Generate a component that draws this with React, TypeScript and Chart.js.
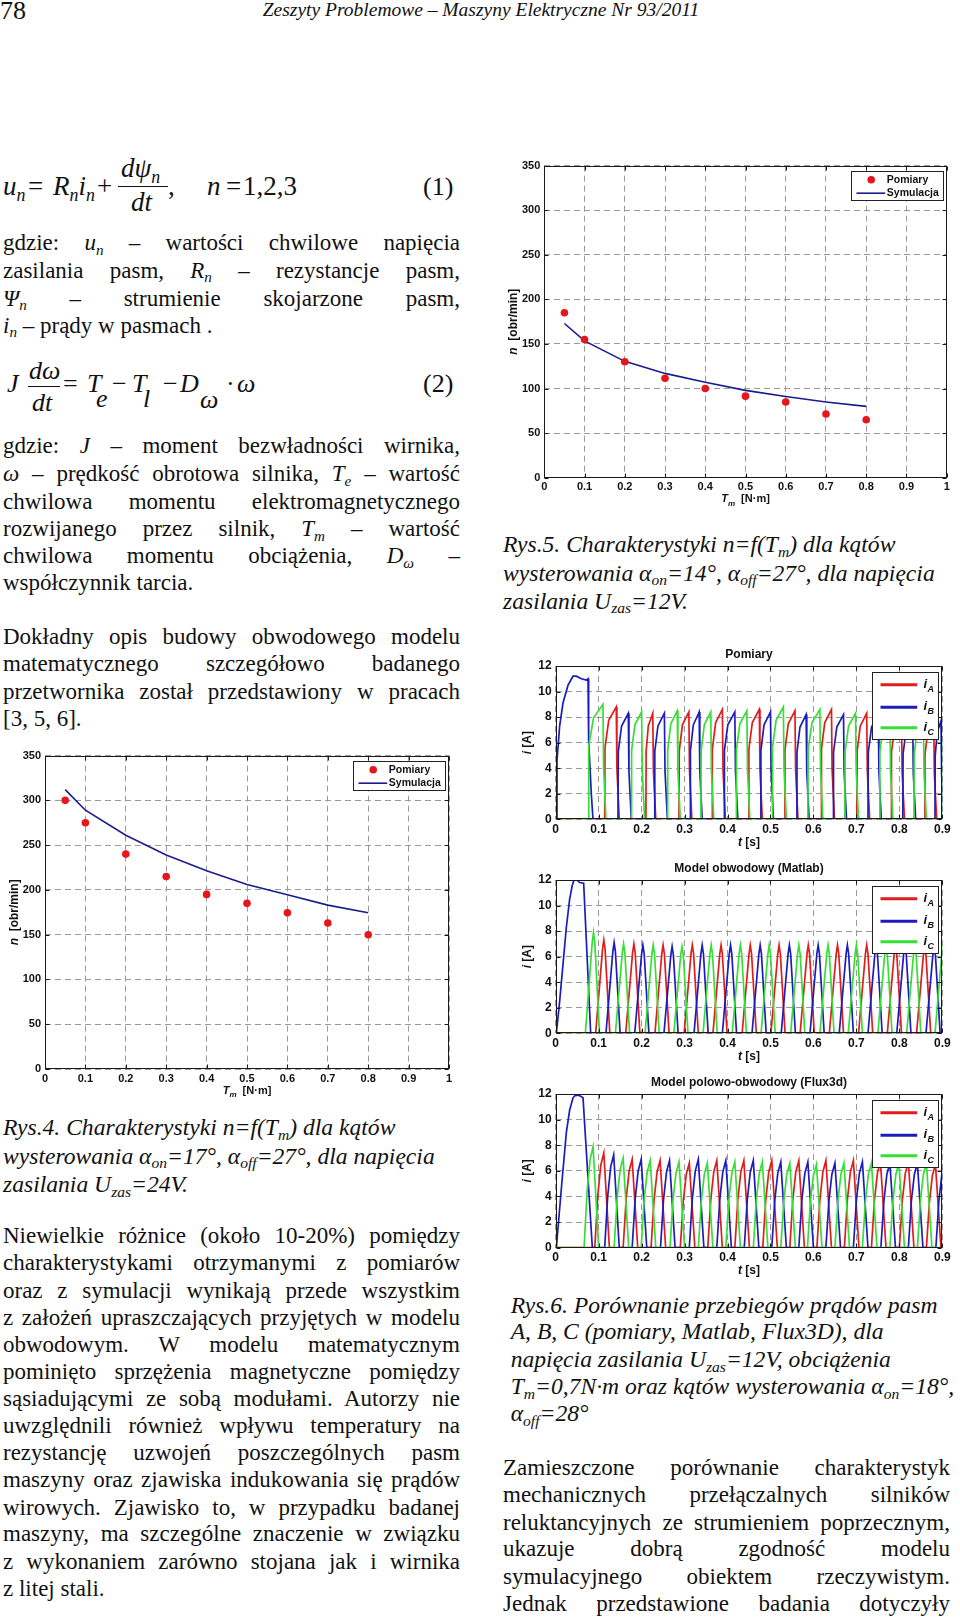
import React, { useEffect, useRef } from 'react';
import { Chart, registerables } from 'chart.js';

Chart.register(...registerables);

// ---------------- DATA ----------------
const torqueValues = [0.05, 0.1, 0.2, 0.3, 0.4, 0.5, 0.6, 0.7, 0.8];
const rys4Pomiary = [300, 275, 240, 215, 195, 185, 174.5, 163, 150];
const rys4Symulacja = [312, 289, 261, 239, 221.5, 206, 194.5, 183, 174.5];
const rys5Pomiary = [185, 155, 130, 111.5, 100, 91.5, 85, 71.5, 65];
const rys5Symulacja = [173, 153.5, 130.5, 117, 107, 98, 91, 85, 80];
const torqueTickLabels = ['0', '0.1', '0.2', '0.3', '0.4', '0.5', '0.6', '0.7', '0.8', '0.9', '1'];
const timeTickLabels = ['0', '0.1', '0.2', '0.3', '0.4', '0.5', '0.6', '0.7', '0.8', '0.9'];

// phase order of the successive current pulses after start-up
const commutationOrder = ['C', 'A', 'B'];

// Pomiary (measurement)
const pomiaryStartupT = [0, 0.0015, 0.003, 0.0092, 0.017, 0.0287, 0.0403, 0.0481, 0.0597, 0.0713, 0.0752, 0.0767, 0.0829, 0.0868];
const pomiaryStartupI = [0, 0, 4.6, 7.3, 9.1, 10.5, 11.2, 11.2, 11.0, 10.9, 11.0, 6.2, 2.0, 0];
const pomiaryOnsets = [0.076, 0.114, 0.145, 0.176, 0.210, 0.230, 0.260, 0.287, 0.313, 0.338, 0.364, 0.392, 0.420, 0.449, 0.477, 0.504, 0.533, 0.561, 0.587, 0.618, 0.646, 0.673, 0.701, 0.727, 0.754, 0.781, 0.808, 0.834, 0.859, 0.883, 0.8985];
const pomiaryPeakTimes = [0.110, 0.141, 0.169, 0.200, 0.226, 0.253, 0.283, 0.310, 0.334, 0.361, 0.388, 0.417, 0.445, 0.474, 0.500, 0.530, 0.557, 0.583, 0.615, 0.642, 0.670, 0.698, 0.724, 0.751, 0.778, 0.805, 0.831, 0.856, 0.880, 0.897, 0.915];
const pomiaryPeakCurrents = [9.0, 8.8, 8.3, 8.4, 8.3, 8.3, 8.5, 8.4, 8.4, 8.4, 8.6, 8.4, 8.5, 8.6, 8.4, 8.8, 8.5, 8.2, 8.6, 8.6, 8.2, 8.3, 8.3, 8.2, 8.3, 8.2, 8.0, 8.0, 7.9, 7.7, 8.0];
const pomiaryRiseShapeU = [0, 0.03, 0.35, 1];
const pomiaryRiseShapeFrac = [0, 0.64, 0.88, 1];
const pomiaryFallShapeDt = [0.0015, 0.007];
const pomiaryFallShapeFrac = [0.45, 0];

// Model obwodowy (Matlab)
const matlabStartupT = [0, 0.0015, 0.0092, 0.017, 0.0248, 0.0325, 0.0387, 0.0426, 0.0496, 0.0558, 0.0651, 0.0814];
const matlabStartupI = [0, 0, 2.5, 5.4, 8.3, 10.5, 11.6, 12.0, 12.0, 11.8, 11.75, 0];
const matlabPeakTimes = [0.088, 0.112, 0.136, 0.158, 0.182, 0.203, 0.227, 0.250, 0.271, 0.294, 0.318, 0.341, 0.362, 0.385, 0.407, 0.430, 0.453, 0.476, 0.497, 0.520, 0.544, 0.566, 0.588, 0.611, 0.634, 0.656, 0.679, 0.700, 0.724, 0.746, 0.769, 0.791, 0.813, 0.836, 0.859, 0.881, 0.902];
const matlabPeakCurrents = [7.9, 7.3, 7.1, 7.0, 7.0, 6.9, 6.9, 6.9, 6.8, 6.8, 6.9, 6.9, 6.9, 6.9, 6.9, 6.9, 6.9, 6.9, 6.9, 6.9, 6.9, 6.9, 6.9, 6.9, 6.9, 6.9, 6.9, 6.9, 6.9, 6.9, 6.9, 6.9, 6.9, 6.9, 6.8, 6.8, 7.0];
const matlabPulseDt = [-0.019, -0.003, 0, 0.003, 0.014];
const matlabPulseFrac = [0, 0.9, 1, 0.9, 0];

// Model polowo-obwodowy (Flux3d)
const fluxStartupT = [0, 0.0015, 0.0131, 0.0248, 0.0325, 0.0403, 0.0457, 0.0543, 0.0636, 0.0853];
const fluxStartupI = [0, 0, 4.6, 9.0, 10.75, 11.7, 11.9, 11.9, 11.7, 0];
const fluxPeakTimes = [0.087, 0.112, 0.135, 0.157, 0.178, 0.199, 0.220, 0.243, 0.265, 0.287, 0.311, 0.332, 0.353, 0.375, 0.396, 0.417, 0.438, 0.460, 0.481, 0.503, 0.524, 0.545, 0.566, 0.587, 0.607, 0.629, 0.650, 0.671, 0.693, 0.714, 0.735, 0.756, 0.778, 0.799, 0.821, 0.842, 0.863, 0.884, 0.906];
const fluxPeakCurrents = [7.9, 7.4, 7.25, 7.0, 6.9, 6.9, 6.8, 6.8, 6.8, 6.7, 6.6, 6.9, 6.6, 6.8, 6.8, 6.7, 6.8, 6.8, 6.7, 6.8, 6.7, 6.6, 6.8, 6.7, 6.5, 6.8, 6.6, 6.6, 6.8, 6.7, 6.6, 6.7, 6.6, 6.6, 6.7, 6.6, 6.6, 6.5, 6.6];
const fluxPulseDt = [-0.021, -0.014, -0.007, 0, 0.013];
const fluxPulseFrac = [0, 0.55, 0.87, 1, 0];

// ---------------- STYLE ----------------
const SERIF = '"Liberation Serif", "Times New Roman", serif';
const SANS = '"Liberation Sans", Arial, sans-serif';
const BODY = 23;
const CAP = 23.6;
const COLOR_A = '#e01c1c';
const COLOR_B = '#1c1cbe';
const COLOR_C = '#35df35';
const GRID = '#9a9a9a';
const INK = '#111111';

type Pt = { x: number; y: number };
type Seg = { t: string; it?: boolean; sub?: boolean };

function pomiaryPulse(i: number): Pt[] {
  const on = pomiaryOnsets[i];
  const tp = pomiaryPeakTimes[i];
  const ip = pomiaryPeakCurrents[i];
  const rise = pomiaryRiseShapeU.map((u, k) => ({ x: on + u * (tp - on), y: ip * pomiaryRiseShapeFrac[k] }));
  const fall = pomiaryFallShapeDt.map((d, k) => ({ x: tp + d, y: ip * pomiaryFallShapeFrac[k] }));
  return [...rise, ...fall];
}

function templatePulse(tp: number, ip: number, dts: number[], fracs: number[]): Pt[] {
  return dts.map((d, k) => ({ x: tp + d, y: ip * fracs[k] }));
}

function phaseTrace(phase: string, count: number, pulseOf: (i: number) => Pt[], startT: number[], startI: number[]): Pt[] {
  const pts: Pt[] = [{ x: 0, y: 0 }];
  if (phase === 'B') startT.forEach((t, k) => pts.push({ x: t, y: startI[k] }));
  for (let i = 0; i < count; i++) {
    if (commutationOrder[i % 3] === phase) pts.push(...pulseOf(i));
  }
  if (pts[pts.length - 1].x < 0.9) pts.push({ x: 0.9, y: 0 });
  return pts;
}

function drawRich(ctx: CanvasRenderingContext2D, segs: Seg[], cx: number, cy: number, size: number, rotate = false) {
  ctx.save();
  ctx.translate(cx, cy);
  if (rotate) ctx.rotate(-Math.PI / 2);
  const fontOf = (s: Seg) => `${s.it ? 'italic ' : ''}bold ${s.sub ? Math.round(size * 0.75) : size}px ${SANS}`;
  let total = 0;
  const ws = segs.map((s) => {
    ctx.font = fontOf(s);
    const w = ctx.measureText(s.t).width;
    total += w;
    return w;
  });
  let x = -total / 2;
  ctx.textAlign = 'left';
  ctx.textBaseline = 'alphabetic';
  ctx.fillStyle = INK;
  segs.forEach((s, i) => {
    ctx.font = fontOf(s);
    ctx.fillText(s.t, x, size * 0.36 + (s.sub ? size * 0.32 : 0));
    x += ws[i];
  });
  ctx.restore();
}

interface Deco {
  title?: string;
  titleSize: number;
  xTitle: Seg[];
  xTitleOff: number;
  yTitle: Seg[];
  yTitleOff: number;
  axisSize: number;
  yAxisSize: number;
  legend: 'rys' | 'phase';
}

function decoPlugin(d: Deco) {
  return {
    id: 'deco',
    afterDraw(chart: any) {
      const ctx: CanvasRenderingContext2D = chart.ctx;
      const a = chart.chartArea;
      ctx.save();
      const L = Math.round(a.left) + 0.5;
      const R = Math.round(a.right) - 0.5;
      const T = Math.round(a.top) + 0.5;
      const B = Math.round(a.bottom) - 0.5;
      ctx.strokeStyle = '#1a1a1a';
      ctx.lineWidth = 1;
      ctx.setLineDash([]);
      ctx.strokeRect(L, T, R - L, B - T);
      const xs = chart.scales.x;
      const ys = chart.scales.y;
      ctx.beginPath();
      xs.ticks.forEach((tk: any) => {
        const px = Math.round(xs.getPixelForValue(tk.value)) + 0.5;
        ctx.moveTo(px, B); ctx.lineTo(px, B - 4);
        ctx.moveTo(px, T); ctx.lineTo(px, T + 4);
      });
      ys.ticks.forEach((tk: any) => {
        const py = Math.round(ys.getPixelForValue(tk.value)) + 0.5;
        ctx.moveTo(L, py); ctx.lineTo(L + 4, py);
        ctx.moveTo(R, py); ctx.lineTo(R - 4, py);
      });
      ctx.stroke();

      // titles
      const cx = (a.left + a.right) / 2;
      const cy = (a.top + a.bottom) / 2;
      if (d.title) drawRich(ctx, [{ t: d.title }], cx, a.top - 12, d.titleSize);
      drawRich(ctx, d.xTitle, cx, a.bottom + d.xTitleOff, d.axisSize);
      drawRich(ctx, d.yTitle, a.left - d.yTitleOff, cy, d.yAxisSize, true);

      // legend
      if (d.legend === 'rys') {
        const w = 92, h = 29;
        const bx = Math.round(a.right - 4 - w) + 0.5;
        const by = Math.round(a.top + 5) + 0.5;
        ctx.fillStyle = '#ffffff';
        ctx.fillRect(bx, by, w, h);
        ctx.strokeStyle = '#222';
        ctx.lineWidth = 1;
        ctx.strokeRect(bx, by, w, h);
        ctx.fillStyle = '#e8161a';
        ctx.beginPath();
        ctx.arc(bx + 19.7, by + 8.3, 3.8, 0, Math.PI * 2);
        ctx.fill();
        ctx.strokeStyle = '#1b1b8f';
        ctx.lineWidth = 1.6;
        ctx.beginPath();
        ctx.moveTo(bx + 5, by + 21.7);
        ctx.lineTo(bx + 33.7, by + 21.7);
        ctx.stroke();
        ctx.fillStyle = INK;
        ctx.font = `bold 10.5px ${SANS}`;
        ctx.textBaseline = 'middle';
        ctx.textAlign = 'left';
        ctx.fillText('Pomiary', bx + 35.3, by + 8.6);
        ctx.fillText('Symulacja', bx + 35.3, by + 21.9);
      } else {
        const w = 66, h = 67;
        const bx = Math.round(a.right - 4.3 - w) + 0.5;
        const by = Math.round(a.top + 6) + 0.5;
        ctx.fillStyle = '#ffffff';
        ctx.fillRect(bx, by, w, h);
        ctx.strokeStyle = '#222';
        ctx.lineWidth = 1;
        ctx.strokeRect(bx, by, w, h);
        const rows = [
          { c: COLOR_A, s: 'A', y: 12.3 },
          { c: COLOR_B, s: 'B', y: 34.7 },
          { c: COLOR_C, s: 'C', y: 55.3 },
        ];
        rows.forEach((r) => {
          ctx.strokeStyle = r.c;
          ctx.lineWidth = 3;
          ctx.beginPath();
          ctx.moveTo(bx + 8, by + r.y);
          ctx.lineTo(bx + 44.7, by + r.y);
          ctx.stroke();
          ctx.fillStyle = INK;
          ctx.textBaseline = 'alphabetic';
          ctx.textAlign = 'left';
          ctx.font = `italic bold 13px ${SANS}`;
          ctx.fillText('i', bx + 51, by + r.y + 3);
          ctx.font = `italic bold 9px ${SANS}`;
          ctx.fillText(r.s, bx + 55, by + r.y + 7);
        });
      }
      ctx.restore();
    },
  };
}

interface Geom { padTop: number; padRight: number; yW: number; xH: number; }

function axisBase(min: number, max: number, step: number, size: number, isX: boolean, g: Geom, labels?: string[]) {
  return {
    type: 'linear',
    min,
    max,
    afterFit: (s: any) => {
      if (isX) s.height = g.xH; else s.width = g.yW;
    },
    grid: { color: GRID, lineWidth: 1, drawTicks: false },
    border: { display: false, dash: [6, 4] },
    title: { display: false },
    ticks: {
      stepSize: step,
      autoSkip: false,
      maxRotation: 0,
      padding: isX ? 3 : 4,
      color: INK,
      font: { family: SANS, size, weight: 'bold' },
      callback: labels ? (v: any) => labels[Math.round(Number(v) * 10)] : undefined,
    },
  };
}

function speedConfig(meas: number[], sim: number[], g: Geom, yTitleOff: number, xTitleOff: number) {
  return {
    type: 'scatter',
    data: {
      datasets: [
        {
          label: 'Pomiary',
          data: torqueValues.map((x, i) => ({ x, y: meas[i] })),
          showLine: false,
          pointRadius: 3.8,
          pointBackgroundColor: '#e8161a',
          pointBorderWidth: 0,
          order: 0,
        },
        {
          label: 'Symulacja',
          data: torqueValues.map((x, i) => ({ x, y: sim[i] })),
          showLine: true,
          borderColor: '#1b1b8f',
          borderWidth: 1.6,
          pointRadius: 0,
          tension: 0,
          order: 1,
        },
      ],
    },
    options: {
      animation: false,
      responsive: false,
      devicePixelRatio: 1,
      layout: { padding: { left: 0, right: g.padRight, top: g.padTop, bottom: 0 } },
      plugins: { legend: { display: false }, tooltip: { enabled: false }, title: { display: false } },
      scales: {
        x: axisBase(0, 1, 0.1, 11, true, g, torqueTickLabels),
        y: axisBase(0, 350, 50, 11, false, g),
      },
    },
    plugins: [
      decoPlugin({
        titleSize: 12,
        xTitle: [{ t: 'T', it: true }, { t: 'm', it: true, sub: true }, { t: '  [N·m]' }],
        xTitleOff,
        yTitle: [{ t: 'n', it: true }, { t: '  [obr/min]' }],
        yTitleOff,
        axisSize: 11,
        yAxisSize: 12,
        legend: 'rys',
      }),
    ],
  };
}

function currentConfig(title: string, traces: Pt[][], g: Geom) {
  const colors = [COLOR_A, COLOR_B, COLOR_C];
  const names = ['iA', 'iB', 'iC'];
  return {
    type: 'scatter',
    data: {
      datasets: traces.map((tr, k) => ({
        label: names[k],
        data: tr,
        showLine: true,
        borderColor: colors[k],
        borderWidth: 1.7,
        pointRadius: 0,
        tension: 0,
        order: 2 - k,
      })),
    },
    options: {
      animation: false,
      responsive: false,
      devicePixelRatio: 1,
      layout: { padding: { left: 0, right: g.padRight, top: g.padTop, bottom: 0 } },
      plugins: { legend: { display: false }, tooltip: { enabled: false }, title: { display: false } },
      scales: {
        x: axisBase(0, 0.9, 0.1, 12, true, g, timeTickLabels),
        y: axisBase(0, 12, 2, 12, false, g),
      },
    },
    plugins: [
      decoPlugin({
        title,
        titleSize: 12,
        xTitle: [{ t: 't', it: true }, { t: ' [s]' }],
        xTitleOff: 22.4,
        yTitle: [{ t: 'i', it: true }, { t: ' [A]' }],
        yTitleOff: 29,
        axisSize: 12,
        yAxisSize: 12,
        legend: 'phase',
      }),
    ],
  };
}

function pomiaryConfig() {
  const n = pomiaryPeakTimes.length;
  const tr = ['A', 'B', 'C'].map((p) => phaseTrace(p, n, pomiaryPulse, pomiaryStartupT, pomiaryStartupI));
  return currentConfig('Pomiary', tr, { padTop: 26, padRight: 17.7, yW: 65.7, xH: 32.7 });
}
function matlabConfig() {
  const n = matlabPeakTimes.length;
  const f = (i: number) => templatePulse(matlabPeakTimes[i], matlabPeakCurrents[i], matlabPulseDt, matlabPulseFrac);
  const tr = ['A', 'B', 'C'].map((p) => phaseTrace(p, n, f, matlabStartupT, matlabStartupI));
  return currentConfig('Model obwodowy (Matlab)', tr, { padTop: 26, padRight: 17.7, yW: 65.7, xH: 32.7 });
}
function fluxConfig() {
  const n = fluxPeakTimes.length;
  const f = (i: number) => templatePulse(fluxPeakTimes[i], fluxPeakCurrents[i], fluxPulseDt, fluxPulseFrac);
  const tr = ['A', 'B', 'C'].map((p) => phaseTrace(p, n, f, fluxStartupT, fluxStartupI));
  return currentConfig('Model polowo-obwodowy (Flux3d)', tr, { padTop: 26, padRight: 17.7, yW: 65.7, xH: 32.3 });
}

function ChartBox(p: { left: number; top: number; width: number; height: number; make: () => any }) {
  const ref = useRef<HTMLCanvasElement | null>(null);
  useEffect(() => {
    if (!ref.current) return;
    const chart = new Chart(ref.current, p.make());
    return () => chart.destroy();
  }, []);
  return (
    <div style={{ position: 'absolute', left: p.left, top: p.top, width: p.width, height: p.height }}>
      <canvas ref={ref} width={p.width} height={p.height} style={{ width: p.width, height: p.height, display: 'block' }} />
    </div>
  );
}

// ---------------- TEXT HELPERS ----------------
function Ln(p: { x: number; y: number; w?: number; size?: number; it?: boolean; j?: boolean; children: React.ReactNode }) {
  const size = p.size ?? BODY;
  return (
    <div
      style={{
        position: 'absolute',
        left: p.x,
        top: p.y - 0.8375 * size,
        width: p.w,
        fontSize: size,
        lineHeight: 1,
        fontFamily: SERIF,
        fontStyle: p.it ? 'italic' : 'normal',
        textAlign: p.j ? 'justify' : 'left',
        textAlignLast: p.j ? 'justify' : 'auto',
        whiteSpace: p.j ? 'normal' : 'nowrap',
        color: INK,
      }}
    >
      {p.children}
    </div>
  );
}
const Sb = ({ children }: { children: React.ReactNode }) => (
  <span style={{ position: 'relative', top: '0.3em', fontSize: '0.66em' }}>{children}</span>
);
const Bar = (p: { x: number; y: number; w: number }) => (
  <div style={{ position: 'absolute', left: p.x, top: p.y, width: p.w, height: 1.3, background: INK }} />
);

const LW = 457;
const RX = 503;
const RW = 447;

export default function App() {
  return (
    <div style={{ position: 'absolute', left: 0, top: 0, width: 960, height: 1618, background: '#fff', overflow: 'hidden' }}>
      {/* header */}
      <Ln x={0} y={20} size={26}>78</Ln>
      <div style={{ position: 'absolute', left: 253, top: 16 - 0.8375 * 19.5, width: 456, textAlign: 'center', fontFamily: SERIF, fontStyle: 'italic', fontSize: 19.5, lineHeight: 1, whiteSpace: 'nowrap', color: INK }}>
        Zeszyty Problemowe – Maszyny Elektryczne Nr 93/2011
      </div>

      {/* equation 1 */}
      <Ln x={3} y={196} size={27}><i>u</i><Sb><i>n</i></Sb></Ln>
      <Ln x={28} y={196} size={27}>=</Ln>
      <Ln x={53} y={196} size={27}><i>R</i><Sb><i>n</i></Sb><i>i</i><Sb><i>n</i></Sb></Ln>
      <Ln x={97} y={196} size={27}>+</Ln>
      <Ln x={121} y={178} size={27}><i>dψ</i><Sb><i>n</i></Sb></Ln>
      <Bar x={118} y={186} w={50} />
      <Ln x={131} y={212} size={27}><i>dt</i></Ln>
      <Ln x={168} y={196} size={27}>,</Ln>
      <Ln x={207} y={196} size={27}><i>n</i></Ln>
      <Ln x={226} y={196} size={27}>=</Ln>
      <Ln x={243} y={196} size={27}>1,2,3</Ln>
      <Ln x={423} y={196} size={26}>(1)</Ln>

      {/* paragraph 1 */}
      <Ln x={3} y={250.7} w={LW} j>gdzie: <i>u</i><Sb><i>n</i></Sb> – wartości chwilowe napięcia</Ln>
      <Ln x={3} y={278} w={LW} j>zasilania pasm, <i>R</i><Sb><i>n</i></Sb> – rezystancje pasm,</Ln>
      <Ln x={3} y={306} w={LW} j><i>Ψ</i><Sb><i>n</i></Sb> – strumienie skojarzone pasm,</Ln>
      <Ln x={3} y={333}><i>i</i><Sb><i>n</i></Sb> – prądy w pasmach .</Ln>

      {/* equation 2 */}
      <Ln x={7} y={393} size={26}><i>J</i></Ln>
      <Ln x={29} y={380} size={26}><i>dω</i></Ln>
      <Bar x={28} y={385.5} w={32} />
      <Ln x={32} y={412} size={26}><i>dt</i></Ln>
      <Ln x={63} y={393} size={26}>=</Ln>
      <Ln x={87} y={393} size={26}><i>T</i></Ln>
      <Ln x={96} y={408} size={26}><i>e</i></Ln>
      <Ln x={112} y={393} size={26}>−</Ln>
      <Ln x={132} y={393} size={26}><i>T</i></Ln>
      <Ln x={143} y={408} size={26}><i>l</i></Ln>
      <Ln x={163} y={393} size={26}>−</Ln>
      <Ln x={180} y={393} size={26}><i>D</i></Ln>
      <Ln x={200} y={409} size={26}><i>ω</i></Ln>
      <Ln x={226} y={393} size={26}>·</Ln>
      <Ln x={237} y={393} size={26}><i>ω</i></Ln>
      <Ln x={423} y={393} size={26}>(2)</Ln>

      {/* paragraph 2 */}
      <Ln x={3} y={453.3} w={LW} j>gdzie: <i>J</i> – moment bezwładności wirnika,</Ln>
      <Ln x={3} y={481.7} w={LW} j><i>ω</i> – prędkość obrotowa silnika, <i>T</i><Sb><i>e</i></Sb> – wartość</Ln>
      <Ln x={3} y={509.3} w={LW} j>chwilowa momentu elektromagnetycznego</Ln>
      <Ln x={3} y={536.7} w={LW} j>rozwijanego przez silnik, <i>T</i><Sb><i>m</i></Sb> – wartość</Ln>
      <Ln x={3} y={563.3} w={LW} j>chwilowa momentu obciążenia, <i>D</i><Sb><i>ω</i></Sb> –</Ln>
      <Ln x={3} y={590}>współczynnik tarcia.</Ln>

      {/* paragraph 3 */}
      <Ln x={3} y={644} w={LW} j>Dokładny opis budowy obwodowego modelu</Ln>
      <Ln x={3} y={671.7} w={LW} j>matematycznego szczegółowo badanego</Ln>
      <Ln x={3} y={699.3} w={LW} j>przetwornika został przedstawiony w pracach</Ln>
      <Ln x={3} y={726}>[3, 5, 6].</Ln>

      {/* Rys.4 chart */}
      <ChartBox left={0} top={745} width={470} height={360} make={() => speedConfig(rys4Pomiary, rys4Symulacja, { padTop: 10, padRight: 21, yW: 45, xH: 36 }, 31.5, 21)} />

      {/* caption Rys.4 */}
      <Ln x={3} y={1136} size={CAP} it>Rys.4. Charakterystyki n=f(T<Sb>m</Sb>) dla kątów</Ln>
      <Ln x={3} y={1164.5} size={CAP} it>wysterowania α<Sb>on</Sb>=17°, α<Sb>off</Sb>=27°, dla napięcia</Ln>
      <Ln x={3} y={1193} size={CAP} it>zasilania U<Sb>zas</Sb>=24V.</Ln>

      {/* paragraph 4 */}
      <Ln x={3} y={1243} w={LW} j>Niewielkie różnice (około 10-20%) pomiędzy</Ln>
      <Ln x={3} y={1270.7} w={LW} j>charakterystykami otrzymanymi z pomiarów</Ln>
      <Ln x={3} y={1298.3} w={LW} j>oraz z symulacji wynikają przede wszystkim</Ln>
      <Ln x={3} y={1325} w={LW} j>z założeń upraszczających przyjętych w modelu</Ln>
      <Ln x={3} y={1352.3} w={LW} j>obwodowym. W modelu matematycznym</Ln>
      <Ln x={3} y={1379.3} w={LW} j>pominięto sprzężenia magnetyczne pomiędzy</Ln>
      <Ln x={3} y={1406} w={LW} j>sąsiadującymi ze sobą modułami. Autorzy nie</Ln>
      <Ln x={3} y={1433.3} w={LW} j>uwzględnili również wpływu temperatury na</Ln>
      <Ln x={3} y={1460.7} w={LW} j>rezystancję uzwojeń poszczególnych pasm</Ln>
      <Ln x={3} y={1487.3} w={LW} j>maszyny oraz zjawiska indukowania się prądów</Ln>
      <Ln x={3} y={1515} w={LW} j>wirowych. Zjawisko to, w przypadku badanej</Ln>
      <Ln x={3} y={1541.7} w={LW} j>maszyny, ma szczególne znaczenie w związku</Ln>
      <Ln x={3} y={1569.3} w={LW} j>z wykonaniem zarówno stojana jak i wirnika</Ln>
      <Ln x={3} y={1596}>z litej stali.</Ln>

      {/* Rys.5 chart */}
      <ChartBox left={490} top={150} width={470} height={360} make={() => speedConfig(rys5Pomiary, rys5Symulacja, { padTop: 15.7, padRight: 13.3, yW: 54.3, xH: 32.3 }, 32, 20.6)} />

      {/* caption Rys.5 */}
      <Ln x={RX} y={553} size={CAP} it>Rys.5. Charakterystyki n=f(T<Sb>m</Sb>) dla kątów</Ln>
      <Ln x={RX} y={581.5} size={CAP} it>wysterowania α<Sb>on</Sb>=14°, α<Sb>off</Sb>=27°, dla napięcia</Ln>
      <Ln x={RX} y={609.5} size={CAP} it>zasilania U<Sb>zas</Sb>=12V.</Ln>

      {/* Rys.6 charts */}
      <ChartBox left={490} top={640} width={470} height={212} make={pomiaryConfig} />
      <ChartBox left={490} top={854} width={470} height={212} make={matlabConfig} />
      <ChartBox left={490} top={1068} width={470} height={212} make={fluxConfig} />

      {/* caption Rys.6 */}
      <Ln x={510.7} y={1313.3} size={CAP} it>Rys.6. Porównanie przebiegów prądów pasm</Ln>
      <Ln x={510.7} y={1340} size={CAP} it>A, B, C (pomiary, Matlab, Flux3D), dla</Ln>
      <Ln x={510.7} y={1367.7} size={CAP} it>napięcia zasilania U<Sb>zas</Sb>=12V, obciążenia</Ln>
      <Ln x={510.7} y={1395} size={CAP} it>T<Sb>m</Sb>=0,7N·m oraz kątów wysterowania α<Sb>on</Sb>=18°,</Ln>
      <Ln x={510.7} y={1421.7} size={CAP} it>α<Sb>off</Sb>=28°</Ln>

      {/* right paragraph */}
      <Ln x={RX} y={1475} w={RW} j>Zamieszczone porównanie charakterystyk</Ln>
      <Ln x={RX} y={1502.3} w={RW} j>mechanicznych przełączalnych silników</Ln>
      <Ln x={RX} y={1530} w={RW} j>reluktancyjnych ze strumieniem poprzecznym,</Ln>
      <Ln x={RX} y={1556.7} w={RW} j>ukazuje dobrą zgodność modelu</Ln>
      <Ln x={RX} y={1584} w={RW} j>symulacyjnego obiektem rzeczywistym.</Ln>
      <Ln x={RX} y={1611} w={RW} j>Jednak przedstawione badania dotyczyły</Ln>
    </div>
  );
}
